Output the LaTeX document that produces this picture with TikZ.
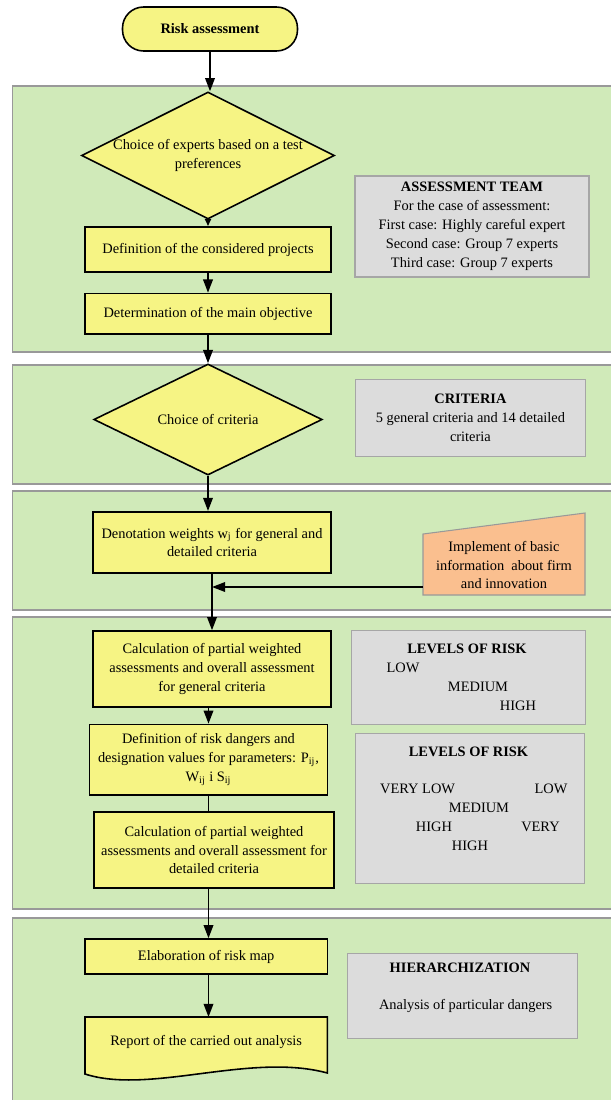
\documentclass[tikz,border=0pt]{standalone}
\usepackage{fontspec}
\setmainfont{Liberation Serif}
\usepackage{tikz}
\usetikzlibrary{positioning,shapes,arrows.meta,calc}
\definecolor{panelgreen}{RGB}{208,234,185}
\definecolor{boxyellow}{RGB}{246,244,132}
\definecolor{notegray}{RGB}{220,220,220}
\definecolor{inputorange}{RGB}{250,191,143}
\newcommand{\flowfont}{\fontsize{8.2}{10.8}\selectfont}

\begin{document}
\begin{tikzpicture}[x=0.02cm, y=-0.02cm, font=\flowfont,
    panel/.style={draw=black!40, fill=panelgreen, line width=0.6pt},
    process/.style={draw, rectangle, fill=boxyellow, line width=0.9pt, align=center, inner sep=1pt},
    decision/.style={draw, diamond, fill=boxyellow, line width=0.9pt, inner sep=0pt},
    note/.style={draw=black!35, fill=notegray, rectangle, line width=0.6pt, align=center},
    noteword/.style={inner sep=0pt},
    notetitle/.style={inner sep=0pt, font=\flowfont\bfseries},
    flow/.style={line width=0.85pt, -{Triangle[length=7.5pt,width=5.5pt]}},
    shortflow/.style={line width=0.85pt, -{Triangle[length=4pt,width=3.5pt]}},
    link/.style={line width=0.85pt}]
            \useasboundingbox (0,0) rectangle (611,1100);

            \draw[panel] (12.5,86) rectangle (615,352);
            \draw[panel] (12.5,365) rectangle (615,484);
            \draw[panel] (12.5,491) rectangle (615,610);
            \draw[panel] (12.5,617) rectangle (615,909);
            \draw[panel] (12.5,918) rectangle (615,1105);

            \node[process, rounded corners=0.42cm, minimum width=3.5cm, minimum height=0.88cm, font=\flowfont\bfseries](risk-start) at (210,29){Risk assessment};

            \node[decision, minimum width=5.06cm, minimum height=2.54cm](choice-experts) at (208,155.5){};
            \node[align=center, inner sep=0pt](choice-experts-text) at (choice-experts.center){Choice of experts based on a test\\preferences};
            \draw[flow](risk-start.south)--(risk-start.south |- choice-experts.north);

            \node[process, minimum width=4.93cm, minimum height=0.91cm](def-projects) at (208,249.5){Definition of the considered projects};
            \draw[shortflow](choice-experts.south)--(def-projects.north);
            \node[process, minimum width=4.93cm, minimum height=0.81cm](main-objective) at (208,313.7){Determination of the main objective};
            \draw[flow](def-projects.south)--(main-objective.north);

            \node[note, minimum width=4.68cm, minimum height=2.02cm](assessment-team) at (472,226.5){\textbf{ASSESSMENT TEAM}\\For the case of assessment:\\First case: Highly careful expert\\Second case: Group 7 experts\\Third case: Group 7 experts};

            \node[decision, minimum width=4.57cm, minimum height=1.29cm](choice-criteria) at (208,419.5){Choice of criteria};
            \draw[flow](main-objective.south)--(main-objective.south |- choice-criteria.north);
            \node[note, minimum width=4.6cm, minimum height=1.55cm](criteria) at (470.4,418){\textbf{CRITERIA}\\5 general criteria and 14 detailed\\criteria};

            \node[process, minimum width=4.75cm, minimum height=1.23cm](denote-weights) at (212,542.5){Denotation weights w\textsubscript{j} for general and\\detailed criteria};
            \draw[flow](choice-criteria.south)--(choice-criteria.south |- denote-weights.north);

            \coordinate (implement-nw) at (423,534);
            \coordinate (implement-ne) at (585,513);
            \coordinate (implement-se) at (585,595);
            \coordinate (implement-sw) at (423,595);
            \coordinate (implement-in) at (423,587);
            \filldraw[fill=inputorange, draw=black!40, line width=0.6pt](implement-nw)--(implement-ne)--(implement-se)--(implement-sw)--cycle;
            \node[align=center, inner sep=0pt](implement) at (504,565){Implement of basic\\information\ \ about firm\\and innovation};

            \node[process, minimum width=4.75cm, minimum height=1.52cm](calc-general) at (212,669){Calculation of partial weighted\\assessments and overall assessment\\for general criteria};
            \draw[flow](denote-weights.south)--(calc-general.north);
            \draw[flow](implement-in)--(implement-in -| denote-weights.south);

            \node[process, minimum width=4.76cm, minimum height=1.41cm](risk-dangers) at (208.5,759.7){Definition of risk dangers and\\designation values for parameters: P\textsubscript{ij},\\W\textsubscript{ij} i S\textsubscript{ij}};
            \draw[flow](calc-general.south -| risk-dangers.north)--(risk-dangers.north);
            \node[process, minimum width=4.81cm, minimum height=1.51cm](calc-detailed) at (214,850){Calculation of partial weighted\\assessments and overall assessment for\\detailed criteria};
            \draw[link](risk-dangers.south)--(risk-dangers.south |- calc-detailed.north);

            \node[note, minimum width=4.67cm, minimum height=1.87cm](levels-general) at (468.6,677.5){};
            \node[notetitle](levels-general-title) at (467,649){LEVELS OF RISK};
            \node[noteword](levels-general-low) at (403,668){LOW};
            \node[noteword](levels-general-medium) at (478,687){MEDIUM};
            \node[noteword](levels-general-high) at (518,706){HIGH};

            \node[note, minimum width=4.58cm, minimum height=3.0cm](levels-detailed) at (470,808.3){};
            \node[notetitle](levels-detailed-title) at (468.5,752){LEVELS OF RISK};
            \node[noteword](levels-detailed-verylow) at (417.6,789){VERY LOW};
            \node[noteword](levels-detailed-low) at (551,789){LOW};
            \node[noteword](levels-detailed-medium) at (479,808){MEDIUM};
            \node[noteword](levels-detailed-high) at (434,827){HIGH};
            \node[noteword](levels-detailed-very) at (540.5,827){VERY};
            \node[noteword](levels-detailed-veryhigh) at (470,846){HIGH};

            \node[process, minimum width=4.85cm, minimum height=0.7cm](risk-map) at (206.2,956.5){Elaboration of risk map};
            \draw[flow](risk-dangers.south |- calc-detailed.south)--(risk-dangers.south |- risk-map.north);

            \coordinate (report-nw) at (85,1017);
            \coordinate (report-ne) at (327.4,1017);
            \coordinate (report-se) at (327.4,1073);
            \coordinate (report-sw) at (85,1074);
            \filldraw[fill=boxyellow, line width=0.9pt](report-nw)--(report-ne)--(report-se) .. controls (250,1052) and (150,1095) .. (report-sw)--cycle;
            \node[inner sep=0pt](report) at (206.2,1042){Report of the carried out analysis};
            \draw[flow](risk-dangers.south |- risk-map.south)--(risk-dangers.south |- report-nw);

            \node[note, minimum width=4.6cm, minimum height=1.69cm](hierarchization) at (462.6,996){};
            \node[notetitle](hierarchization-title) at (460,967.5){HIERARCHIZATION};
            \node[noteword](hierarchization-text) at (465.7,1006){Analysis of particular dangers};
        \end{tikzpicture}
\end{document}
